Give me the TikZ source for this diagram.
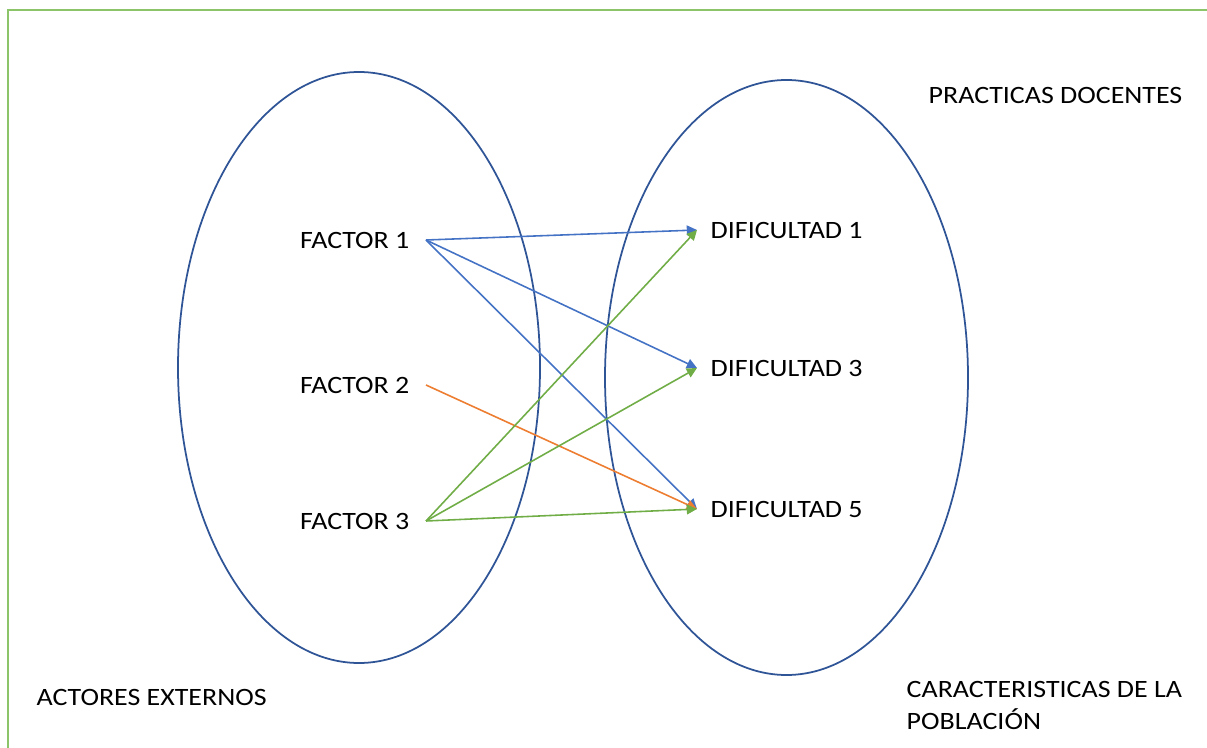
\documentclass[tikz,border=0pt]{standalone}
\usepackage{fontspec}
\setmainfont{Carlito}[FakeStretch=1.12]
\usetikzlibrary{arrows.meta}
\definecolor{lineblue}{HTML}{4472C4}
\definecolor{ovalblue}{HTML}{2F5597}
\definecolor{linegreen}{HTML}{70AD47}
\definecolor{frameg}{HTML}{8CC46A}
\definecolor{lineorange}{HTML}{ED7D31}
\begin{document}
\begin{tikzpicture}[x=1cm,y=-1cm]
\tikzstyle{fac} = [anchor=east,inner xsep=0.16cm,inner ysep=0pt,font=\fontsize{7.1}{8.5}\selectfont]
\tikzstyle{dif} = [anchor=west,inner xsep=0.13cm,inner ysep=0pt,font=\fontsize{7.1}{8.5}\selectfont]
\tikzstyle{lab} = [anchor=west,inner sep=0pt,align=left,font=\fontsize{7.1}{9.1}\selectfont]
\tikzstyle{oval} = [ovalblue,line width=0.5pt]
\tikzstyle{arr} = [line width=0.45pt,-{Triangle[length=2.9pt,width=2.8pt]}]

\useasboundingbox (0,0) rectangle (12.07,7.48);
\draw[frameg,line width=0.7pt] (0.08,7.6) -- (0.08,0.10) -- (12.2,0.10);

\draw[oval] (3.59,3.675) ellipse [x radius=1.81,y radius=2.955];
\draw[oval] (7.865,3.775) ellipse [x radius=1.815,y radius=2.975];

\node[fac] (f1) at (4.26,2.40) {FACTOR 1};
\node[fac] (f2) at (4.26,3.85) {FACTOR 2};
\node[fac] (f3) at (4.26,5.21) {FACTOR 3};
\node[dif] (d1) at (6.97,2.30) {DIFICULTAD 1};
\node[dif] (d3) at (6.97,3.68) {DIFICULTAD 3};
\node[dif] (d5) at (6.97,5.09) {DIFICULTAD 5};

\node[lab] (pd) at (9.28,0.95) {PRACTICAS DOCENTES};
\node[lab] (ae) at (0.36,6.97) {ACTORES EXTERNOS};
\node[lab] (cp) at (9.06,7.05) {CARACTERISTICAS DE LA\\POBLACIÓN};

\draw[arr,lineblue] (f1.east) -- (d1.west);
\draw[arr,lineblue] (f1.east) -- (d3.west);
\draw[arr,lineblue] (f1.east) -- (d5.west);
\draw[arr,lineorange] (f2.east) -- (d5.west);
\draw[arr,linegreen] (f3.east) -- (d1.west);
\draw[arr,linegreen] (f3.east) -- (d3.west);
\draw[arr,linegreen] (f3.east) -- (d5.west);
\end{tikzpicture}
\end{document}
